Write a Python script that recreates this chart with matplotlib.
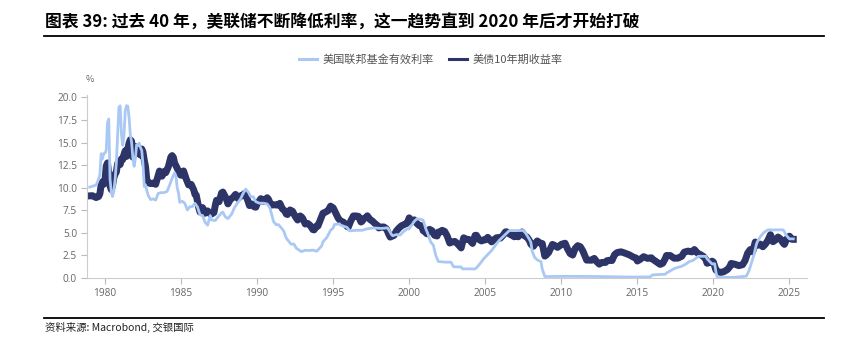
import matplotlib
matplotlib.use("Agg")
import matplotlib.pyplot as plt
from matplotlib.lines import Line2D

plt.rcParams['font.family'] = ['Noto Sans CJK SC', 'DejaVu Sans']

# 美国联邦基金有效利率 (月度, %)
ffr_dates = ["1979-01", "1979-06", "1979-08", "1979-09", "1979-10", "1979-11", "1979-12",
             "1980-01", "1980-02", "1980-03", "1980-04", "1980-05", "1980-06", "1980-07", "1980-08",
             "1980-09", "1980-10", "1980-11", "1980-12",
             "1981-01", "1981-02", "1981-03", "1981-04", "1981-05", "1981-06", "1981-07", "1981-08",
             "1981-09", "1981-10", "1981-11", "1981-12",
             "1982-01", "1982-02", "1982-03", "1982-04", "1982-05", "1982-06", "1982-07", "1982-08",
             "1982-09", "1982-10", "1982-11", "1982-12",
             "1983-01", "1983-03", "1983-05", "1983-07", "1983-09", "1983-12",
             "1984-02", "1984-04", "1984-06", "1984-08", "1984-09", "1984-10", "1984-11", "1984-12",
             "1985-02", "1985-04", "1985-06", "1985-08", "1985-10", "1985-12",
             "1986-02", "1986-04", "1986-06", "1986-08", "1986-10", "1986-12",
             "1987-01", "1987-04", "1987-06", "1987-09", "1987-10", "1987-12",
             "1988-02", "1988-05", "1988-07", "1988-09", "1988-12",
             "1989-02", "1989-04", "1989-06", "1989-08", "1989-10", "1989-12",
             "1990-03", "1990-06", "1990-09", "1990-11", "1990-12",
             "1991-02", "1991-04", "1991-06", "1991-08", "1991-10", "1991-12",
             "1992-02", "1992-04", "1992-06", "1992-08", "1992-10", "1992-12",
             "1993-03", "1993-06", "1993-09", "1993-12",
             "1994-02", "1994-04", "1994-05", "1994-08", "1994-11",
             "1995-01", "1995-02", "1995-06", "1995-07", "1995-12",
             "1996-02", "1996-06", "1996-12", "1997-04", "1997-09",
             "1998-03", "1998-08", "1998-10", "1998-11", "1998-12",
             "1999-03", "1999-06", "1999-08", "1999-11",
             "2000-01", "2000-03", "2000-05", "2000-07", "2000-10", "2000-12",
             "2001-01", "2001-02", "2001-04", "2001-06", "2001-08", "2001-10", "2001-12",
             "2002-06", "2002-10", "2002-12", "2003-06", "2003-07", "2004-05", "2004-07",
             "2004-09", "2004-12", "2005-06", "2005-12", "2006-06", "2006-08",
             "2007-07", "2007-09", "2007-12",
             "2008-01", "2008-02", "2008-04", "2008-06", "2008-09", "2008-10", "2008-12",
             "2010-06", "2012-06", "2014-06", "2015-11",
             "2016-01", "2016-11", "2016-12", "2017-03", "2017-06", "2017-12",
             "2018-03", "2018-06", "2018-09", "2018-12",
             "2019-01", "2019-07", "2019-08", "2019-10", "2019-12",
             "2020-02", "2020-03", "2020-04", "2021-06",
             "2022-03", "2022-05", "2022-07", "2022-09", "2022-11", "2022-12",
             "2023-02", "2023-05", "2023-08", "2024-08", "2024-09", "2024-10", "2024-11",
             "2024-12", "2025-01", "2025-04"]
ffr_vals = [10.07, 10.29, 10.94, 11.43, 13.77, 13.18, 13.78,
            13.82, 14.13, 17.19, 17.61, 10.98, 9.47, 9.03, 9.61,
            10.87, 12.81, 15.85, 18.90,
            19.08, 15.93, 14.70, 15.72, 18.52, 19.10, 19.04, 17.82,
            15.87, 15.08, 13.31, 12.37,
            13.22, 14.78, 14.68, 14.94, 14.45, 14.15, 12.59, 10.12,
            10.31, 9.71, 9.20, 8.95,
            8.68, 8.77, 8.63, 9.37, 9.45, 9.47,
            9.59, 10.29, 11.06, 11.64, 11.30, 9.99, 9.43, 8.38,
            8.50, 8.27, 7.53, 7.90, 7.92, 8.27,
            7.86, 6.99, 6.92, 6.17, 5.85, 6.91,
            6.43, 6.36, 6.73, 7.22, 7.29, 6.77,
            6.58, 7.09, 7.75, 8.19, 8.76,
            9.36, 9.84, 9.53, 9.02, 8.99, 8.45,
            8.28, 8.29, 8.20, 7.81, 7.31,
            6.25, 5.91, 5.90, 5.57, 5.21, 4.43,
            4.06, 3.73, 3.76, 3.30, 3.10, 2.92,
            3.07, 3.04, 3.09, 2.96,
            3.25, 3.56, 4.01, 4.47, 5.29,
            5.53, 5.92, 6.00, 5.85, 5.60,
            5.22, 5.27, 5.29, 5.45, 5.54,
            5.49, 5.55, 5.07, 4.83, 4.68,
            4.81, 4.76, 5.07, 5.42,
            5.45, 5.85, 6.27, 6.54, 6.51, 6.40,
            5.98, 5.49, 4.80, 3.97, 3.65, 2.49, 1.82,
            1.75, 1.75, 1.24, 1.22, 1.01, 1.00, 1.26,
            1.61, 2.16, 3.04, 4.16, 4.99, 5.25,
            5.26, 4.94, 4.24,
            3.94, 2.98, 2.28, 2.00, 1.81, 0.97, 0.16,
            0.18, 0.16, 0.10, 0.12,
            0.34, 0.41, 0.54, 0.79, 1.04, 1.30,
            1.51, 1.82, 1.95, 2.27,
            2.40, 2.40, 2.13, 1.83, 1.55,
            1.58, 0.65, 0.05, 0.08,
            0.20, 0.77, 1.68, 2.56, 3.78, 4.10,
            4.57, 5.06, 5.33, 5.33, 5.13, 4.83, 4.64,
            4.48, 4.33, 4.33]

# 美债10年期收益率 (%)
t10_dates = ["1979-01", "1979-03", "1979-06", "1979-08", "1979-09", "1979-10", "1979-11", "1979-12",
             "1980-01", "1980-02", "1980-03", "1980-04", "1980-05", "1980-06", "1980-07", "1980-08",
             "1980-09", "1980-10", "1980-11", "1980-12",
             "1981-01", "1981-02", "1981-03", "1981-04", "1981-05", "1981-06", "1981-07", "1981-08",
             "1981-09", "1981-10", "1981-11", "1981-12",
             "1982-01", "1982-02", "1982-03", "1982-04", "1982-05", "1982-06", "1982-07", "1982-08",
             "1982-09", "1982-10", "1982-11", "1982-12",
             "1983-01", "1983-03", "1983-05", "1983-07", "1983-08", "1983-10", "1983-12",
             "1984-01", "1984-03", "1984-05", "1984-06", "1984-07", "1984-08", "1984-10", "1984-12",
             "1985-01", "1985-03", "1985-05", "1985-07", "1985-09", "1985-11", "1985-12",
             "1986-01", "1986-03", "1986-04", "1986-06", "1986-08", "1986-10", "1986-12",
             "1987-01", "1987-03", "1987-04", "1987-05", "1987-07", "1987-09", "1987-10", "1987-12",
             "1988-01", "1988-02", "1988-04", "1988-06", "1988-08", "1988-10", "1988-12",
             "1989-01", "1989-03", "1989-05", "1989-07", "1989-09", "1989-11", "1989-12",
             "1990-01", "1990-03", "1990-04", "1990-06", "1990-08", "1990-09", "1990-10", "1990-12",
             "1991-01", "1991-03", "1991-05", "1991-07", "1991-09", "1991-11", "1991-12",
             "1992-01", "1992-03", "1992-05", "1992-07", "1992-09", "1992-11", "1992-12",
             "1993-01", "1993-03", "1993-05", "1993-07", "1993-09", "1993-10", "1993-12",
             "1994-01", "1994-03", "1994-05", "1994-07", "1994-09", "1994-11", "1994-12",
             "1995-01", "1995-03", "1995-05", "1995-07", "1995-09", "1995-11", "1995-12",
             "1996-01", "1996-03", "1996-05", "1996-07", "1996-09", "1996-11", "1996-12",
             "1997-01", "1997-03", "1997-04", "1997-06", "1997-08", "1997-10", "1997-12",
             "1998-01", "1998-03", "1998-05", "1998-07", "1998-09", "1998-10", "1998-12",
             "1999-01", "1999-03", "1999-05", "1999-07", "1999-09", "1999-11", "1999-12",
             "2000-01", "2000-03", "2000-05", "2000-07", "2000-09", "2000-11", "2000-12",
             "2001-01", "2001-03", "2001-05", "2001-07", "2001-09", "2001-11", "2001-12",
             "2002-01", "2002-03", "2002-05", "2002-07", "2002-09", "2002-10", "2002-12",
             "2003-01", "2003-03", "2003-06", "2003-08", "2003-10", "2003-12",
             "2004-01", "2004-03", "2004-05", "2004-06", "2004-08", "2004-10", "2004-12",
             "2005-01", "2005-03", "2005-06", "2005-08", "2005-10", "2005-12",
             "2006-01", "2006-03", "2006-05", "2006-06", "2006-08", "2006-10", "2006-12",
             "2007-01", "2007-03", "2007-06", "2007-08", "2007-10", "2007-12",
             "2008-01", "2008-03", "2008-06", "2008-08", "2008-10", "2008-12",
             "2009-01", "2009-03", "2009-06", "2009-08", "2009-10", "2009-12",
             "2010-01", "2010-04", "2010-06", "2010-08", "2010-10", "2010-12",
             "2011-02", "2011-04", "2011-06", "2011-08", "2011-09", "2011-12",
             "2012-01", "2012-03", "2012-05", "2012-07", "2012-09", "2012-12",
             "2013-01", "2013-03", "2013-05", "2013-07", "2013-09", "2013-12",
             "2014-01", "2014-04", "2014-07", "2014-10", "2014-12",
             "2015-01", "2015-03", "2015-06", "2015-09", "2015-12",
             "2016-01", "2016-03", "2016-07", "2016-09", "2016-11", "2016-12",
             "2017-03", "2017-06", "2017-09", "2017-12",
             "2018-02", "2018-05", "2018-08", "2018-10", "2018-12",
             "2019-01", "2019-03", "2019-05", "2019-07", "2019-08", "2019-10", "2019-12",
             "2020-01", "2020-03", "2020-05", "2020-07", "2020-09", "2020-12",
             "2021-02", "2021-03", "2021-06", "2021-09", "2021-12",
             "2022-02", "2022-04", "2022-06", "2022-08", "2022-10", "2022-12",
             "2023-02", "2023-04", "2023-06", "2023-08", "2023-10", "2023-12",
             "2024-02", "2024-04", "2024-06", "2024-08", "2024-09", "2024-11", "2024-12",
             "2025-01", "2025-02", "2025-03", "2025-04"]
t10_vals = [9.10, 9.12, 8.91, 9.03, 9.33, 10.30, 10.65, 10.39,
            10.80, 12.41, 12.75, 11.47, 10.18, 9.78, 10.25, 11.10,
            11.51, 11.75, 12.68, 12.84,
            12.57, 13.19, 13.12, 13.68, 14.10, 13.47, 14.28, 14.94,
            15.32, 15.15, 13.39, 13.72,
            14.59, 14.43, 13.86, 13.87, 13.62, 14.30, 13.95, 13.06,
            12.34, 10.91, 10.55, 10.54,
            10.46, 10.51, 10.38, 11.38, 11.85, 11.28, 11.83,
            11.67, 12.32, 13.41, 13.56, 13.36, 12.72, 12.16, 11.50,
            11.38, 11.86, 11.01, 10.31, 10.37, 9.78, 9.26,
            9.19, 7.78, 7.30, 7.80, 7.17, 7.43, 7.11,
            7.08, 7.25, 8.02, 8.61, 8.45, 9.42, 9.52, 8.99,
            8.67, 8.21, 8.72, 8.92, 9.26, 8.80, 9.11,
            9.09, 9.36, 8.86, 8.02, 8.19, 7.87, 7.84,
            8.21, 8.59, 8.79, 8.48, 8.75, 8.89, 8.72, 8.08,
            8.09, 8.11, 8.07, 8.27, 7.65, 7.42, 7.09,
            7.03, 7.54, 7.39, 6.84, 6.42, 6.87, 6.77,
            6.60, 5.98, 6.04, 5.81, 5.36, 5.33, 5.77,
            5.75, 6.48, 7.18, 7.30, 7.46, 7.96, 7.81,
            7.78, 7.20, 6.63, 6.28, 6.20, 5.93, 5.71,
            5.65, 6.34, 6.87, 6.87, 6.83, 6.20, 6.30,
            6.58, 6.69, 6.89, 6.49, 6.30, 6.03, 5.81,
            5.54, 5.65, 5.65, 5.46, 4.81, 4.53, 4.65,
            4.72, 5.23, 5.54, 5.79, 5.92, 6.03, 6.28,
            6.66, 6.26, 6.44, 6.05, 5.80, 5.78, 5.24,
            5.16, 4.89, 5.39, 5.24, 4.73, 4.65, 5.09,
            5.04, 5.28, 5.16, 4.65, 3.87, 3.94, 4.03,
            4.05, 3.81, 3.33, 4.45, 4.29, 4.27,
            4.15, 3.83, 4.72, 4.73, 4.28, 4.10, 4.23,
            4.22, 4.50, 4.00, 4.26, 4.46, 4.47,
            4.42, 4.72, 5.11, 5.11, 4.88, 4.73, 4.56,
            4.76, 4.56, 5.10, 4.67, 4.53, 4.10,
            3.74, 3.51, 4.10, 3.89, 3.81, 2.42,
            2.52, 2.82, 3.72, 3.59, 3.39, 3.59,
            3.73, 3.85, 3.20, 2.70, 2.54, 3.29,
            3.58, 3.46, 3.00, 2.30, 1.98, 1.98,
            1.97, 2.17, 1.80, 1.53, 1.72, 1.72,
            1.91, 1.96, 1.93, 2.58, 2.81, 2.90,
            2.86, 2.71, 2.54, 2.30, 2.21,
            1.88, 2.04, 2.36, 2.17, 2.24,
            2.09, 1.89, 1.50, 1.63, 2.14, 2.49,
            2.48, 2.19, 2.20, 2.40,
            2.86, 2.98, 2.89, 3.15, 2.83,
            2.71, 2.57, 2.40, 2.06, 1.63, 1.71, 1.86,
            1.76, 0.87, 0.67, 0.62, 0.68, 0.93,
            1.26, 1.61, 1.52, 1.37, 1.47,
            1.93, 2.75, 3.14, 2.90, 3.98, 3.62,
            3.75, 3.46, 3.75, 4.17, 4.80, 4.02,
            4.21, 4.54, 4.31, 3.87, 3.72, 4.36, 4.39,
            4.63, 4.45, 4.28, 4.28]

year_ticks = [1980, 1985, 1990, 1995, 2000, 2005, 2010, 2015, 2020, 2025]
y_ticks = [0.0, 2.5, 5.0, 7.5, 10.0, 12.5, 15.0, 17.5, 20.0]

title = "图表 39: 过去 40 年，美联储不断降低利率，这一趋势直到 2020 年后才开始打破"
source = "资料来源: Macrobond, 交银国际"
ffr_label = "美国联邦基金有效利率"
t10_label = "美债10年期收益率"


def to_year(d):
    y, m = d.split("-")
    return int(y) + (int(m) - 1) / 12.0


ffr_x = [to_year(d) for d in ffr_dates]
t10_x = [to_year(d) for d in t10_dates]

light = "#a9c9f4"
dark = "#2d3467"
grey = "#666666"

fig = plt.figure(figsize=(8.5, 3.55), dpi=100)
ax = fig.add_axes([0.102, 0.217, 0.847, 0.516])

# thick navy line stands in for the noisy daily band
ax.plot(t10_x, t10_vals, color=dark, lw=5.0, zorder=2)
ax.plot(ffr_x, ffr_vals, color=light, lw=2.0, zorder=3)

ax.set_xlim(1978.8, 2026.13)
ax.set_ylim(0, 20.3)
ax.set_xticks(year_ticks)
ax.set_yticks(y_ticks)
ax.set_yticklabels(["%.1f" % v for v in y_ticks])
for s in ["top", "right"]:
    ax.spines[s].set_visible(False)
for s in ["left", "bottom"]:
    ax.spines[s].set_color("#cccccc")
    ax.spines[s].set_linewidth(0.8)
ax.tick_params(axis="both", colors="#bbbbbb", labelcolor=grey, labelsize=7.3,
               length=4, width=0.8)
ax.tick_params(axis="y", pad=3)
ax.tick_params(axis="x", pad=3)
for lab in ax.get_xticklabels() + ax.get_yticklabels():
    lab.set_family(["Open Sans", "DejaVu Sans"])

fig.text(0.101, 0.775, "%", fontsize=6.5, color=grey, ha="left", va="center")

handles = [Line2D([], [], color=light, lw=2.2), Line2D([], [], color=dark, lw=2.2)]
fig.legend(handles, [ffr_label, t10_label], loc="center", bbox_to_anchor=(0.507, 0.833),
           ncol=2, frameon=False, fontsize=8, handlelength=1.6, handletextpad=0.5,
           columnspacing=1.4, labelcolor="#555555")

fig.text(0.053, 0.937, title, fontsize=12.1, fontweight="bold", ha="left", va="center")
fig.add_artist(Line2D([0.052, 0.969], [0.898, 0.898], color="black", lw=1.3,
                      transform=fig.transFigure))
fig.add_artist(Line2D([0.052, 0.969], [0.104, 0.104], color="black", lw=1.3,
                      transform=fig.transFigure))
fig.text(0.053, 0.078, source, fontsize=7.5, style="italic", color="#222222",
         ha="left", va="center")

fig.savefig("out.png", dpi=100)
